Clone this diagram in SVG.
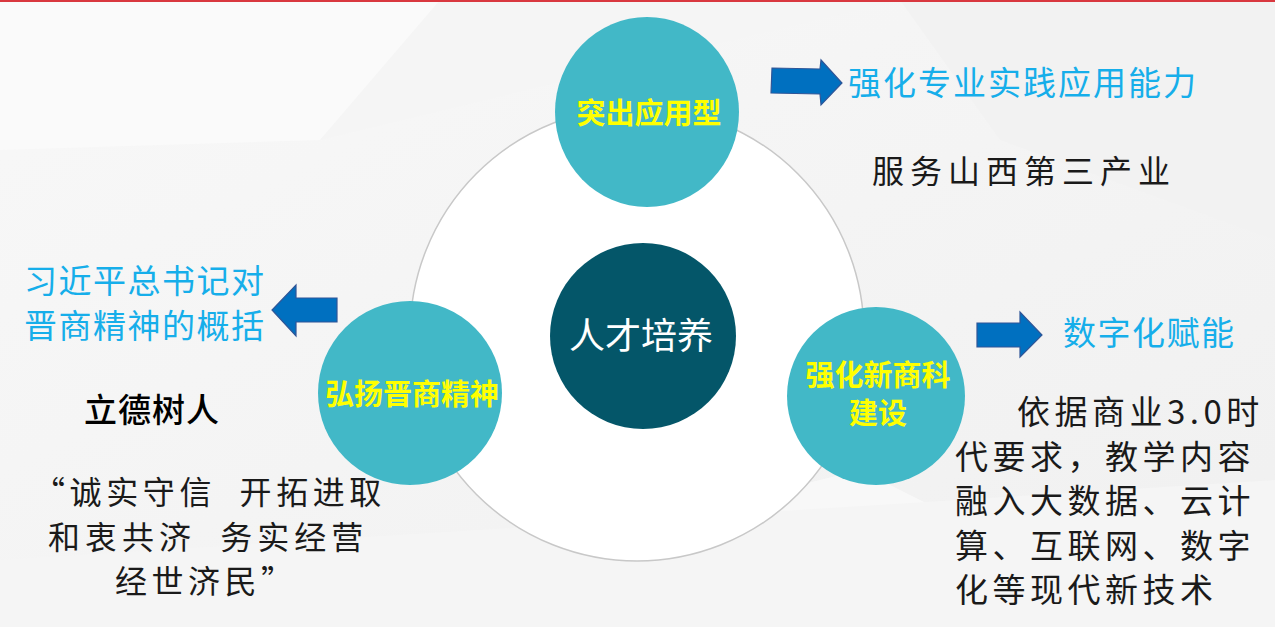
<svg xmlns="http://www.w3.org/2000/svg" width="1275" height="627" viewBox="0 0 1275 627">
<defs>
<style>
.bubble{fill:#42B8C7;}
.ylw{font-family:"Noto Sans CJK SC","Noto Sans",sans-serif;font-weight:bold;font-size:29px;fill:#FFFF00;text-anchor:middle;}
.cyan{font-family:"Noto Sans CJK SC","Noto Sans",sans-serif;font-size:33px;fill:#16AEEA;}
.serif{font-family:"Noto Sans CJK SC","Liberation Serif",serif;font-size:32px;fill:#1A1A1A;}
.para{font-family:"Noto Sans CJK SC","Liberation Serif",serif;font-size:33px;fill:#1A1A1A;letter-spacing:4.5px;}
.arrow{fill:#0070C0;stroke:#2F5597;stroke-width:1.2;}
</style>
<linearGradient id="bg" x1="0" y1="0" x2="1" y2="1">
<stop offset="0" stop-color="#F8F8F8"/>
<stop offset="1" stop-color="#F0F0F0"/>
</linearGradient>
</defs>
<g id="background">
<rect x="0" y="0" width="1275" height="627" fill="url(#bg)"/>
<polygon points="0,0 450,0 320,140 0,150" fill="#FAFAFA"/>
<polygon points="440,0 900,0 320,140" fill="#F5F5F5"/>
<polygon points="900,0 1275,0 1275,240 1000,140" fill="#F2F2F2"/>
<polygon points="740,500 860,470 960,520 900,560" fill="#F8F8F8"/>
<polygon points="0,560 1275,480 1275,627 0,627" fill="#F5F5F5"/>
<rect x="0" y="0" width="1275" height="2" fill="#D9383F"/>
</g>
<g id="ring">
<circle cx="637" cy="334" r="227" fill="#FFFFFF" stroke="#C8C8C8" stroke-width="1.5"/>
</g>
<g id="connectors">
<polygon class="arrow" points="772,68 820,69 821,60 842,83 821,105 820,94 771,93"/>
<polygon class="arrow" points="337,298 296,298 296,285 272,310 296,336 296,322 337,322"/>
<polygon class="arrow" points="977,323 1020,323 1020,312 1042,335 1020,357 1020,347 977,347"/>
</g>
<g id="node-center">
<circle cx="643" cy="336" r="93" fill="#045669"/>
<text x="641" y="349" font-family="'Noto Sans CJK SC','Noto Sans',sans-serif" font-size="36" fill="#FFFFFF" text-anchor="middle">人才培养</text>
</g>
<g id="node-top">
<ellipse class="bubble" cx="647" cy="112" rx="92" ry="95"/>
<text class="ylw" x="649" y="124">突出应用型</text>
</g>
<g id="node-left">
<circle class="bubble" cx="410" cy="393" r="92"/>
<text class="ylw" x="412" y="405">弘扬晋商精神</text>
</g>
<g id="node-right">
<circle class="bubble" cx="876" cy="396" r="89"/>
<text class="ylw" x="878" y="386">强化新商科</text>
<text class="ylw" x="878" y="424">建设</text>
</g>
<g id="texts">
<text class="cyan" x="848" y="95" letter-spacing="2">强化专业实践应用能力</text>
<text class="serif" x="872" y="183" letter-spacing="6">服务山西第三产业</text>
<text class="cyan" x="24" y="293" letter-spacing="1.5">习近平总书记对</text>
<text class="cyan" x="24" y="338" letter-spacing="1.5">晋商精神的概括</text>
<text x="84" y="422" font-family="'Noto Sans CJK SC','Noto Sans',sans-serif" font-size="33" font-weight="500" fill="#000" letter-spacing="1">立德树人</text>
<text class="serif" x="33" y="504" letter-spacing="4.6" xml:space="preserve">“诚实守信  开拓进取</text>
<text class="serif" x="48" y="549" letter-spacing="5" xml:space="preserve">和衷共济  务实经营</text>
<text class="serif" x="115" y="593" letter-spacing="4.5">经世济民”</text>
<text class="cyan" x="1063" y="345" letter-spacing="1.5">数字化赋能</text>
<text class="para" x="1017" y="424">依据商业3.0时</text>
<text class="para" x="955" y="468.5">代要求，教学内容</text>
<text class="para" x="955" y="513">融入大数据、云计</text>
<text class="para" x="955" y="557.5">算、互联网、数字</text>
<text class="para" x="955" y="602">化等现代新技术</text>
</g>
</svg>
